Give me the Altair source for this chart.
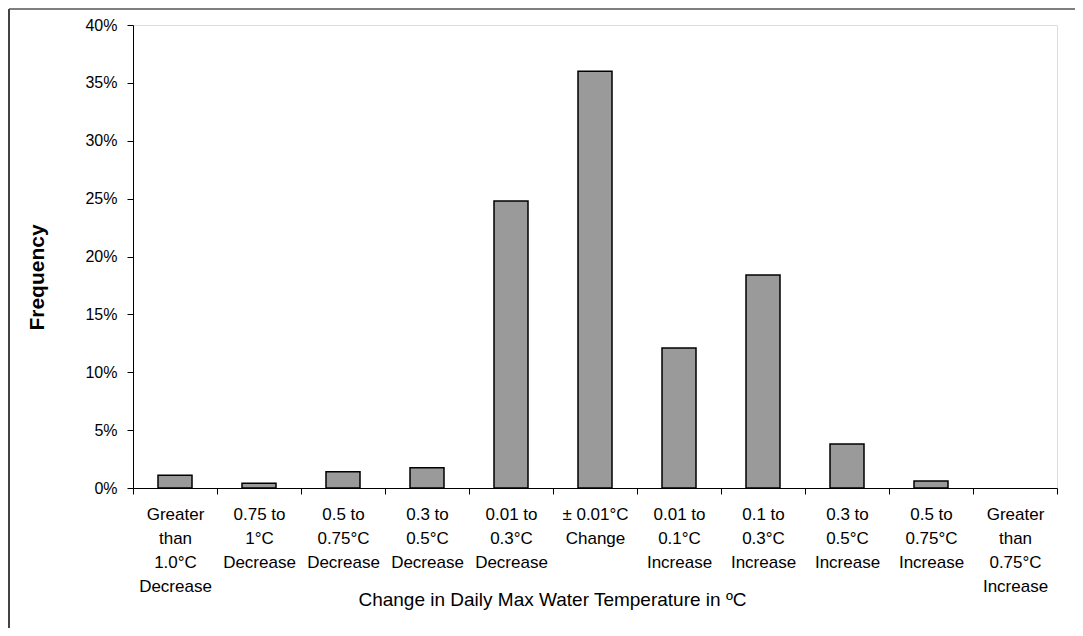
import altair as alt
import pandas as pd

categories = [
    "Greater\nthan\n1.0°C\nDecrease",
    "0.75 to\n1°C\nDecrease",
    "0.5 to\n0.75°C\nDecrease",
    "0.3 to\n0.5°C\nDecrease",
    "0.01 to\n0.3°C\nDecrease",
    "± 0.01°C\nChange",
    "0.01 to\n0.1°C\nIncrease",
    "0.1 to\n0.3°C\nIncrease",
    "0.3 to\n0.5°C\nIncrease",
    "0.5 to\n0.75°C\nIncrease",
    "Greater\nthan\n0.75°C\nIncrease",
]
frequency = [0.011, 0.004, 0.014, 0.0175, 0.248, 0.360, 0.121, 0.184, 0.038, 0.006, 0.0]
y_ticks = [0, 0.05, 0.10, 0.15, 0.20, 0.25, 0.30, 0.35, 0.40]

df = pd.DataFrame({"cat": categories, "freq": frequency})

FONT = "Liberation Sans"
W, H = 924, 463

bars = alt.Chart(df).mark_bar(
    size=34, fill="#9a9a9a", stroke="black", strokeWidth=1.5
).encode(
    x=alt.X(
        "cat:N",
        sort=categories,
        scale=alt.Scale(paddingInner=0, paddingOuter=0),
        axis=alt.Axis(
            title="Change in Daily Max Water Temperature in ºC",
            titleFont=FONT, titleFontSize=19, titleFontWeight="normal",
            titleColor="black",
            titleX=419, titleY=117, titleBaseline="alphabetic",
            labelExpr="split(datum.label, '\\n')",
            labelAngle=0, labelFont=FONT, labelFontSize=17,
            labelLineHeight=24, labelColor="black", labelBaseline="top",
            labelPadding=12, tickBand="extent", tickSize=6, tickColor="black",
            domainColor="black", labelLimit=200,
        ),
    ),
    y=alt.Y(
        "freq:Q",
        scale=alt.Scale(domain=[0, 0.4], nice=False),
        axis=alt.Axis(
            title="Frequency", values=y_ticks, format=".0%",
            titleFont=FONT, titleFontSize=21, titleFontWeight="bold",
            titleColor="black", titleAngle=270, titleBaseline="middle",
            titleAlign="center", titleX=-96, titleY=252,
            labelFont=FONT, labelFontSize=16, labelColor="black",
            labelPadding=10, tickSize=6, tickColor="black",
            domainColor="black", grid=False,
        ),
    ),
    strokeOpacity=alt.condition(alt.datum.freq > 0, alt.value(1), alt.value(0)),
    fillOpacity=alt.condition(alt.datum.freq > 0, alt.value(1), alt.value(0)),
)

frame_df = pd.DataFrame({"k": [0]})
left_edge = alt.Chart(frame_df).mark_rule(color="#444444", strokeWidth=2).encode(
    x=alt.value(-124), y=alt.value(-16), y2=alt.value(700),
)
top_edge = alt.Chart(frame_df).mark_rule(color="#555555", strokeWidth=1.5).encode(
    x=alt.value(-124), x2=alt.value(2000), y=alt.value(-16),
)

chart = alt.layer(bars, left_edge, top_edge).properties(
    width=W, height=H,
    autosize=alt.AutoSizeParams(type="none"),
    padding={"left": 125, "top": 17, "right": 18, "bottom": 140},
).configure_view(
    stroke="black", strokeWidth=1
).configure(background="white")

chart.save("out.html", embed_options={"renderer": "svg", "actions": False})
